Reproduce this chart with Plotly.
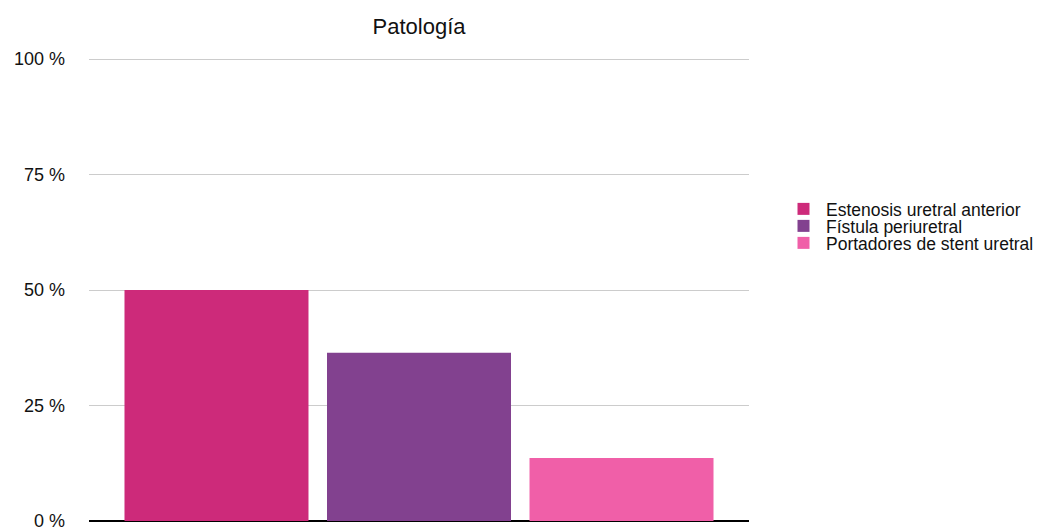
import plotly.graph_objects as go

categories = ["Patología"]
series_names = ["Estenosis uretral anterior", "Fístula periuretral", "Portadores de stent uretral"]
series_values = [50.0, 36.4, 13.6]
colors = ["#CD2A7A", "#82418F", "#F05FA8"]
tick_vals = [0, 25, 50, 75, 100]
tick_text = ["0 %", "25 %", "50 %", "75 %", "100 %"]

W, H = 1053, 529
L, R = 89, 304
pad = 0.45
px_per_unit = (521 - 59) / 100.0
T = round(59 - pad * px_per_unit)
B = round(H - 521 - pad * px_per_unit)
plot_w = W - L - R
plot_h = H - T - B

legend_names = ["legend", "legend2", "legend3"]
legend_px_y = [209, 226, 243]

fig = go.Figure()
for name, val, col, lg in zip(series_names, series_values, colors, legend_names):
    fig.add_trace(go.Bar(x=categories, y=[val], name=name, marker_color=col,
                         marker_line_width=0, legend=lg))

font_family = "Liberation Sans, Arial, Helvetica, sans-serif"
layout = dict(
    width=W, height=H,
    margin=dict(l=L, r=R, t=T, b=B, autoexpand=False),
    paper_bgcolor="white", plot_bgcolor="white",
    title=dict(text="Patología", x=(L + plot_w / 2) / W, xanchor="center",
               y=1 - 26 / H, yanchor="middle",
               font=dict(family=font_family, size=22, color="#111")),
    barmode="group", bargap=0.0795, bargroupgap=0.0914,
    font=dict(family=font_family, color="#111"),
    xaxis=dict(showticklabels=False, showgrid=False, showline=False,
               zeroline=False, ticks="", automargin=False),
    yaxis=dict(range=[-pad, 100 + pad], tickmode="array", tickvals=tick_vals,
               ticktext=tick_text, ticklabeloverflow="allow", automargin=False,
               showgrid=True, gridcolor="#cccccc", gridwidth=1,
               zeroline=True, zerolinecolor="black", zerolinewidth=1.5,
               showline=False, ticks="",
               tickfont=dict(size=18, color="#111"), ticklabelstandoff=23),
    showlegend=True,
)
for lg, py in zip(legend_names, legend_px_y):
    layout[lg] = dict(x=(781 - L) / plot_w, xanchor="left",
                      y=(H - B - py) / plot_h, yanchor="middle",
                      font=dict(size=17.5, color="#111"), itemwidth=35,
                      bgcolor="rgba(0,0,0,0)")
fig.update_layout(**layout)
fig.write_html("out.html")
